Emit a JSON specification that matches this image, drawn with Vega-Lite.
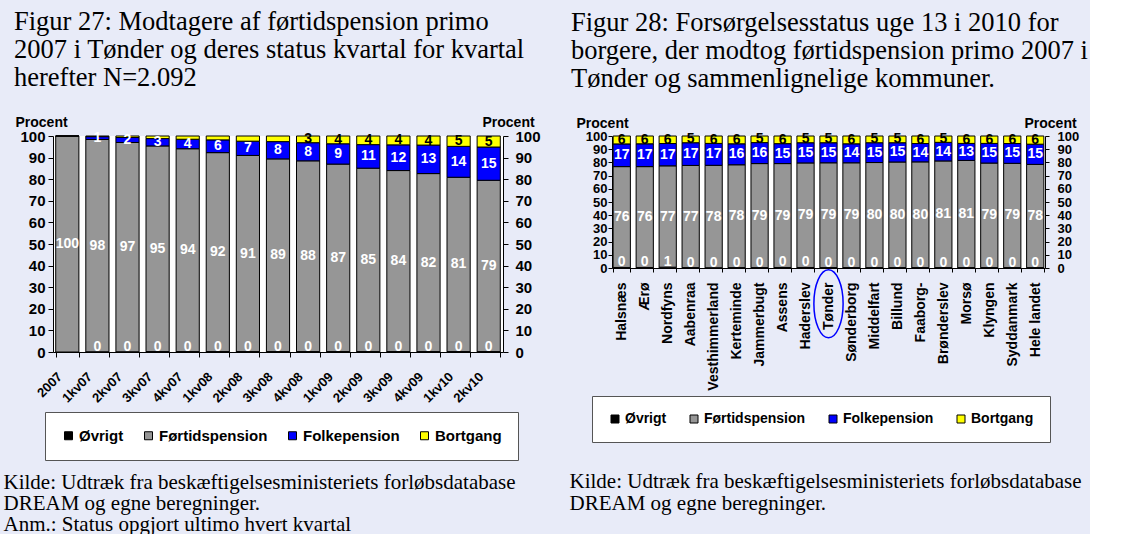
{
  "$schema": "https://vega.github.io/schema/vega-lite/v6.json",
  "background": "#E8EBF8",
  "padding": {"left": 3, "top": 8, "right": 2, "bottom": 0},
  "autosize": {"type": "pad"},
  "bounds": "flush",
  "spacing": 109,
  "resolve": {"scale": {"color": "independent", "x": "independent", "y": "independent"}, "legend": {"color": "independent"}},
  "config": {
    "view": {"fill": "white", "stroke": null},
    "axis": {"labelFont": "Liberation Sans", "labelFontWeight": "bold", "labelColor": "black", "domainColor": "black", "tickColor": "black", "titleFont": "Liberation Sans", "titleFontWeight": "bold", "titleColor": "black", "grid": false, "labelFlush": false, "labelOverlap": false, "labelBound": false},
    "legend": {"labelFont": "Liberation Sans", "labelFontWeight": "bold", "labelColor": "black"}
  },
  "hconcat": [
    {
      "width": 450,
      "height": 216,
      "title": {"text": ["Figur 27: Modtagere af førtidspension primo", "2007 i Tønder og deres status kvartal for kvartal", "herefter N=2.092"], "anchor": "start", "frame": "group", "dx": -39, "offset": -3, "font": "Liberation Serif", "fontSize": 26.5, "fontWeight": "normal", "lineHeight": 28, "color": "black", "baseline": "bottom"},
      "data": {"values": [
        {"p": "2007", "Øvrigt": 0, "Førtidspension": 100, "Folkepension": 0, "Bortgang": 0},
        {"p": "1kv07", "Øvrigt": 0.1, "Førtidspension": 98.3, "Folkepension": 1.3, "Bortgang": 0.3},
        {"p": "2kv07", "Øvrigt": 0.1, "Førtidspension": 96.9, "Folkepension": 2.3, "Bortgang": 0.7},
        {"p": "3kv07", "Øvrigt": 0.2, "Førtidspension": 95.2, "Folkepension": 3.4, "Bortgang": 1.2},
        {"p": "4kv07", "Øvrigt": 0.2, "Førtidspension": 93.9, "Folkepension": 4.4, "Bortgang": 1.5},
        {"p": "1kv08", "Øvrigt": 0.2, "Førtidspension": 92.1, "Folkepension": 5.9, "Bortgang": 1.8},
        {"p": "2kv08", "Øvrigt": 0.2, "Førtidspension": 90.8, "Folkepension": 6.6, "Bortgang": 2.4},
        {"p": "3kv08", "Øvrigt": 0.2, "Førtidspension": 89.2, "Folkepension": 8.0, "Bortgang": 2.6},
        {"p": "4kv08", "Øvrigt": 0.2, "Førtidspension": 88.3, "Folkepension": 8.4, "Bortgang": 3.1},
        {"p": "1kv09", "Øvrigt": 0.2, "Førtidspension": 86.8, "Folkepension": 9.4, "Bortgang": 3.6},
        {"p": "2kv09", "Øvrigt": 0.2, "Førtidspension": 84.9, "Folkepension": 10.9, "Bortgang": 4.0},
        {"p": "3kv09", "Øvrigt": 0.2, "Førtidspension": 83.8, "Folkepension": 11.9, "Bortgang": 4.1},
        {"p": "4kv09", "Øvrigt": 0.2, "Førtidspension": 82.4, "Folkepension": 13.2, "Bortgang": 4.2},
        {"p": "1kv10", "Øvrigt": 0.2, "Førtidspension": 80.7, "Folkepension": 14.3, "Bortgang": 4.8},
        {"p": "2kv10", "Øvrigt": 0.2, "Førtidspension": 79.3, "Folkepension": 15.4, "Bortgang": 5.1}
      ]},
      "transform": [{"fold": ["Øvrigt", "Førtidspension", "Folkepension", "Bortgang"], "as": ["kategori", "pct"]}],
      "encoding": {
        "x": {
          "field": "p", "type": "nominal", "sort": null,
          "scale": {"paddingInner": 0.23, "paddingOuter": 0.09},
          "axis": {
            "title": ["Kilde: Udtræk fra beskæftigelsesministeriets forløbsdatabase", "DREAM og egne beregninger.", "Anm.: Status opgjort ultimo hvert kvartal"],
            "titleX": -50, "titleY": 136, "titleAlign": "left", "titleBaseline": "alphabetic",
            "titleFont": "Liberation Serif", "titleFontWeight": "normal", "titleFontSize": 21, "titleLineHeight": 21, "titleLimit": 2000,
            "labelAngle": -45, "labelFontSize": 13, "labelOffset": -12, "labelPadding": 13,
            "tickBand": "extent", "tickSize": 5
          }
        },
        "order": {"field": "kategori", "type": "ordinal", "sort": "descending"}
      },
      "resolve": {"axis": {"y": "independent"}},
      "layer": [
        {
          "mark": {"type": "bar", "stroke": "black", "strokeWidth": 1},
          "encoding": {
            "y": {"field": "pct", "type": "quantitative", "stack": "zero", "scale": {"domain": [0, 100]},
              "axis": {"orient": "left", "values": [0, 10, 20, 30, 40, 50, 60, 70, 80, 90, 100], "title": "Procent", "titleAngle": 0, "titleAlign": "left", "titleBaseline": "alphabetic", "titleX": -38, "titleY": -10, "titleFontSize": 14, "labelFontSize": 15, "tickSize": 5, "labelPadding": 3}},
            "color": {"field": "kategori", "type": "nominal",
              "scale": {"domain": ["Øvrigt", "Førtidspension", "Folkepension", "Bortgang"], "range": ["#000000", "#969696", "#0000FF", "#FFFF00"]},
              "legend": {"orient": "none", "legendX": -8, "legendY": 276, "direction": "horizontal", "columns": 4, "title": null, "fillColor": "white", "strokeColor": "#555555", "padding": 16, "columnPadding": 17, "symbolType": "square", "symbolSize": 64, "symbolStrokeColor": "black", "symbolStrokeWidth": 1, "labelFontSize": 15, "labelOffset": 3}}
          }
        },
        {
          "mark": {"type": "text", "font": "Liberation Sans", "fontWeight": "bold", "fontSize": 14, "baseline": "middle", "align": "center"},
          "encoding": {
            "y": {"field": "pct", "type": "quantitative", "stack": "zero", "bandPosition": 0.5, "scale": {"domain": [0, 100]},
              "axis": {"orient": "right", "values": [0, 10, 20, 30, 40, 50, 60, 70, 80, 90, 100], "title": "Procent", "titleAngle": 0, "titleAlign": "left", "titleBaseline": "alphabetic", "titleX": -21, "titleY": -10, "titleFontSize": 14, "labelFontSize": 15, "tickSize": 5, "labelPadding": 7}},
            "detail": {"field": "kategori", "type": "nominal"},
            "text": {"field": "pct", "type": "quantitative", "format": ".0f"},
            "color": {"condition": {"test": "datum.kategori === 'Bortgang'", "value": "black"}, "value": "white"},
            "opacity": {"condition": {"test": "datum.kategori === 'Øvrigt' || datum.pct < 0.5 || (datum.kategori === 'Bortgang' && datum.pct < 2.9)", "value": 0}, "value": 1}
          }
        },
        {
          "transform": [{"filter": "datum.kategori === 'Øvrigt' && datum.p !== '2007'"}],
          "mark": {"type": "text", "font": "Liberation Sans", "fontWeight": "bold", "fontSize": 14, "baseline": "alphabetic", "align": "center", "color": "white", "dy": -1},
          "encoding": {
            "y": {"field": "pct", "type": "quantitative", "stack": null, "scale": {"domain": [0, 100]}, "axis": null},
            "text": {"field": "pct", "type": "quantitative", "format": ".0f"}
          }
        }
      ]
    },
    {
      "width": 433,
      "height": 132,
      "title": {"text": ["Figur 28: Forsørgelsesstatus uge 13 i 2010 for", "borgere, der modtog førtidspension primo 2007 i", "Tønder og sammenlignelige kommuner."], "anchor": "start", "frame": "group", "dx": -41, "offset": -3, "font": "Liberation Serif", "fontSize": 26.5, "fontWeight": "normal", "lineHeight": 28, "color": "black", "baseline": "bottom"},
      "data": {"values": [
        {"p": "Halsnæs", "Øvrigt": 0.4, "Førtidspension": 76.4, "Folkepension": 17.2, "Bortgang": 6.0},
        {"p": "Ærø", "Øvrigt": 0.4, "Førtidspension": 76.4, "Folkepension": 17.3, "Bortgang": 5.9},
        {"p": "Nordfyns", "Øvrigt": 0.6, "Førtidspension": 76.8, "Folkepension": 16.9, "Bortgang": 5.7},
        {"p": "Aabenraa", "Øvrigt": 0.3, "Førtidspension": 77.4, "Folkepension": 17.2, "Bortgang": 5.1},
        {"p": "Vesthimmerland", "Øvrigt": 0.2, "Førtidspension": 77.6, "Folkepension": 16.6, "Bortgang": 5.6},
        {"p": "Kerteminde", "Øvrigt": 0.3, "Førtidspension": 77.9, "Folkepension": 15.9, "Bortgang": 5.9},
        {"p": "Jammerbugt", "Øvrigt": 0.3, "Førtidspension": 78.8, "Folkepension": 15.9, "Bortgang": 5.0},
        {"p": "Assens", "Øvrigt": 0.4, "Førtidspension": 78.7, "Folkepension": 15.1, "Bortgang": 5.8},
        {"p": "Haderslev", "Øvrigt": 0.4, "Førtidspension": 79.2, "Folkepension": 15.3, "Bortgang": 5.1},
        {"p": "Tønder", "Øvrigt": 0.3, "Førtidspension": 79.4, "Folkepension": 15.2, "Bortgang": 5.1},
        {"p": "Sønderborg", "Øvrigt": 0.3, "Førtidspension": 79.4, "Folkepension": 14.4, "Bortgang": 5.9},
        {"p": "Middelfart", "Øvrigt": 0.3, "Førtidspension": 79.6, "Folkepension": 15.0, "Bortgang": 5.1},
        {"p": "Billund", "Øvrigt": 0.3, "Førtidspension": 80.0, "Folkepension": 14.6, "Bortgang": 5.1},
        {"p": "Faaborg-", "Øvrigt": 0.3, "Førtidspension": 80.1, "Folkepension": 13.9, "Bortgang": 5.7},
        {"p": "Brønderslev", "Øvrigt": 0.3, "Førtidspension": 80.8, "Folkepension": 14.1, "Bortgang": 4.8},
        {"p": "Morsø", "Øvrigt": 0.3, "Førtidspension": 81.2, "Folkepension": 12.9, "Bortgang": 5.6},
        {"p": "Klyngen", "Øvrigt": 0.3, "Førtidspension": 79.2, "Folkepension": 14.9, "Bortgang": 5.6},
        {"p": "Syddanmark", "Øvrigt": 0.3, "Førtidspension": 79.0, "Folkepension": 15.0, "Bortgang": 5.7},
        {"p": "Hele landet", "Øvrigt": 0.3, "Førtidspension": 78.2, "Folkepension": 15.3, "Bortgang": 6.2}
      ]},
      "transform": [{"fold": ["Øvrigt", "Førtidspension", "Folkepension", "Bortgang"], "as": ["kategori", "pct"]}],
      "encoding": {
        "x": {
          "field": "p", "type": "nominal", "sort": null,
          "scale": {"paddingInner": 0.25, "paddingOuter": 0.05},
          "axis": {
            "title": ["Kilde: Udtræk fra beskæftigelsesministeriets forløbsdatabase", "DREAM og egne beregninger."],
            "titleX": -43, "titleY": 219, "titleAlign": "left", "titleBaseline": "alphabetic",
            "titleFont": "Liberation Serif", "titleFontWeight": "normal", "titleFontSize": 21, "titleLineHeight": 22, "titleLimit": 2000,
            "labelAngle": -90, "labelFontSize": 14, "labelPadding": 10,
            "tickBand": "extent", "tickSize": 4
          }
        },
        "order": {"field": "kategori", "type": "ordinal", "sort": "descending"}
      },
      "resolve": {"axis": {"y": "independent"}},
      "layer": [
        {
          "mark": {"type": "bar", "stroke": "black", "strokeWidth": 1},
          "encoding": {
            "y": {"field": "pct", "type": "quantitative", "stack": "zero", "scale": {"domain": [0, 100]},
              "axis": {"orient": "left", "values": [0, 10, 20, 30, 40, 50, 60, 70, 80, 90, 100], "title": "Procent", "titleAngle": 0, "titleAlign": "left", "titleBaseline": "alphabetic", "titleX": -36, "titleY": -9, "titleFontSize": 14, "labelFontSize": 13, "tickSize": 4, "labelPadding": 1}},
            "color": {"field": "kategori", "type": "nominal",
              "scale": {"domain": ["Øvrigt", "Førtidspension", "Folkepension", "Bortgang"], "range": ["#000000", "#969696", "#0000FF", "#FFFF00"]},
              "legend": {"orient": "none", "legendX": -20, "legendY": 260, "direction": "horizontal", "columns": 4, "title": null, "fillColor": "white", "strokeColor": "#555555", "padding": 16, "columnPadding": 20, "symbolType": "square", "symbolSize": 64, "symbolStrokeColor": "black", "symbolStrokeWidth": 1, "labelFontSize": 14, "labelOffset": 3}}
          }
        },
        {
          "mark": {"type": "text", "font": "Liberation Sans", "fontWeight": "bold", "fontSize": 14, "baseline": "middle", "align": "center"},
          "encoding": {
            "y": {"field": "pct", "type": "quantitative", "stack": "zero", "bandPosition": 0.5, "scale": {"domain": [0, 100]},
              "axis": {"orient": "right", "values": [0, 10, 20, 30, 40, 50, 60, 70, 80, 90, 100], "title": "Procent", "titleAngle": 0, "titleAlign": "left", "titleBaseline": "alphabetic", "titleX": -21, "titleY": -9, "titleFontSize": 14, "labelFontSize": 13, "tickSize": 4, "labelPadding": 8}},
            "detail": {"field": "kategori", "type": "nominal"},
            "text": {"field": "pct", "type": "quantitative", "format": ".0f"},
            "color": {"condition": {"test": "datum.kategori === 'Bortgang'", "value": "black"}, "value": "white"},
            "opacity": {"condition": {"test": "datum.kategori === 'Øvrigt'", "value": 0}, "value": 1}
          }
        },
        {
          "transform": [{"filter": "datum.kategori === 'Øvrigt'"}],
          "mark": {"type": "text", "font": "Liberation Sans", "fontWeight": "bold", "fontSize": 14, "baseline": "alphabetic", "align": "center", "color": "white", "dy": -1},
          "encoding": {
            "y": {"field": "pct", "type": "quantitative", "stack": null, "scale": {"domain": [0, 100]}, "axis": null},
            "text": {"field": "pct", "type": "quantitative", "format": ".0f"}
          }
        },
        {
          "transform": [{"filter": "datum.kategori === 'Øvrigt' && datum.p === 'Tønder'"}],
          "mark": {"type": "point", "shape": "M0,-1A0.43,1 0 1,1 0,1A0.43,1 0 1,1 0,-1Z", "size": 4624, "filled": false, "stroke": "#0000FF", "strokeWidth": 1.5, "opacity": 1, "clip": false},
          "encoding": {
            "y": {"datum": -27, "type": "quantitative", "scale": {"domain": [0, 100]}, "axis": null}
          }
        }
      ]
    }
  ]
}
